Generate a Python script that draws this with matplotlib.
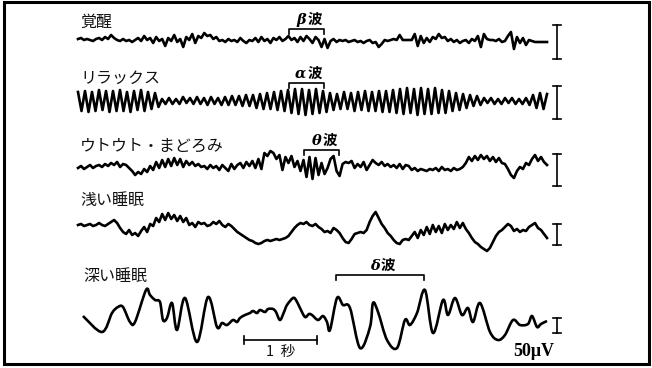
import numpy as np
import matplotlib.pyplot as plt
from matplotlib.patches import Rectangle, PathPatch
from matplotlib.path import Path

plt.rcParams['font.family'] = ['Noto Sans CJK JP', 'DejaVu Sans']

# --- data --------------------------------------------------------------
# deflections in plate units (positive = up), traces 1-4 evenly sampled
states = ["覚醒", "リラックス", "ウトウト・まどろみ", "浅い睡眠", "深い睡眠"]
bands = ["β波", "α波", "θ波", None, "δ波"]

wake = [2, 3, 1, 2, 1, 0, 2, 3, 1, 4, 2, 6, 3, 1, 0, 2, 0, 1, -1, 1, 3, 0, 5, 1,
        3, -2, 4, 0, 2, -5, 3, 0, 6, -1, 2, -6, 4, 1, 7, -2, 5, 3, 8, 5, 6, 2,
        4, 0, 1, -1, 2, 0, 1, -1, 3, 0, -2, 1, 0, 3, -1, 4, 0, 2, -2, 3, 1, 4,
        0, 2, 5, 1, 3, -1, 4, 0, 5, 2, -2, 4, 1, -6, 2, -7, 0, 2, -1, 1, 0, 1,
        -1, 0, 1, -1, 0, -2, 0, 1, -2, -1, -6, -3, 1, 0, 1, 2, 1, 6, 1, 1, 1, 1,
        7, -5, 5, -2, 3, -1, 4, 2, 7, 3, 4, 0, 2, -1, 1, -2, 0, 1, -2, 2, 0, 5,
        -6, 7, 2, 1, 1, 0, 2, -1, 0, 5, 9, -8, 4, -2, 3, -4, 1, 0, -1, -1, -1,
        -1, -1]

# alpha trace: successive peaks / troughs
relax = [9, -10, 10, -11, 9, -10, 11, -9, 10, -11, 10, -10, 11, -10, 9, -11,
         10, -9, 11, -10, 9, -8, 8, -6,
         2, -3, 3, -3, 2, -3, 4, -2, 3, -3, 4, -3, 3, -4, 4, -3, 3, -4, 4, -4,
         5, -4, 5, -5, 6, -5,
         6, -7, 7, -8, 8, -8, 9, -9, 10, -10,
         11, -12, 12, -13, 12, -14, 11, -13, 12, -12, 10, -11,
         8, -9, 7, -8, 9, -8, 8, -10, 9, -9, 10, -10, 9, -10, 10, -11, 10, -11,
         11, -12,
         12, -13, 13, -12, 12, -14, 13, -13, 12, -13, 13, -12, 11, -12, 10, -10,
         8, -9,
         7, -7, 6, -5, 5, -4,
         3, -2, 3, -3, 2, -3, 3, -2, 3, -3, 2, -3, 3, -4,
         6, -7, 8, -8, 7]

drowsy = [-3, -1, -4, -2, 0, -3, -1, 0, -2, 1, -1, 2, 0, 3, -2, 1, 0, -3, -6,
          -10, -7, -9, -4, -7, -1, -5, 3, -3, 5, -2, 6, -1, 7, 0, 6, -2, 4, 0,
          3, -1, 1, -2, -1, -4, 0, -3, -1, -5, 0, -3, -6, 1, -4, 0, 2, -3, 3,
          -1, 4, -3, 6, -4, 12, 9, 14, 12, 6, 10, -5, 8, 2, 9, -2, 4, -6, 5,
          -12, 8, -14, 7, -10, 2, -9, -3, 6, 9, -6, -11, 1, 3, 2, 4, -3, 1, -2,
          3, -5, 0, 5, 2, 0, 3, -1, 1, -2, 0, -3, 1, -4, 0, -1, -5, -3, -6, -4,
          -5, -6, -4, -5, -3, -6, -2, -5, -4, -6, -3, -5, -4, -2, 2, 8, 4, 9, 5,
          10, 6, 9, 4, 8, 3, 7, 2, 1, -4, -10, -13, -6, -2, -4, 2, 0, 6, 10, 4,
          8, 3, 0]

light = [5, 6, 4, 5, 6, 4, 5, 7, 5, 4, 6, 8, 10, 7, 2, -2, -4, 0, -5, -3, -6,
         -1, 3, -2, 6, 4, 12, 8, 16, 10, 17, 11, 15, 9, 14, 8, 12, 5, 7, 3, 8,
         6, 7, 4, 5, 8, 6, 9, 5, 3, 6, 4, 1, -2, -4, -6, -8, -10, -11, -13, -14,
         -13, -11, -10, -11, -10, -9, -10, -9, -8, -6, -2, 2, 5, 7, 6, 8, 5, 4,
         6, 3, 1, -2, -1, -3, 2, 0, -3, -8, -12, -13, -9, -4, -3, -2, -3, 0, 8,
         14, 18, 12, 6, 2, -3, -6, -10, -13, -14, -10, -9, -10, -6, -2, -8, 0,
         -5, 3, -4, 5, -2, 4, -3, 6, 0, 5, 1, 8, 2, 7, 1, -3, -8, -12, -14, -17,
         -19, -21, -18, -12, -6, -2, 0, 3, 6, 4, -1, 1, -2, 0, -1, 3, 5, 7, 2,
         0, -4, -8]

# delta trace: turning points, time in ms
deep_ms = [68, 329, 466, 548, 616, 712, 781, 932, 986, 1055, 1123, 1164, 1219,
           1288, 1356, 1466, 1630, 1781, 1904, 1973, 2041, 2123, 2178, 2219,
           2288, 2356, 2397, 2452, 2493, 2562, 2603, 2671, 2712, 2767, 2822,
           2863, 2945, 2986, 3041, 3110, 3164, 3205, 3288, 3356, 3411, 3452,
           3548, 3630, 3726, 3863, 4000, 4041, 4110, 4233, 4370, 4479, 4548,
           4644, 4753, 4863, 5000, 5068, 5164, 5260, 5342, 5411, 5507, 5644,
           5753, 5849, 5959, 6055, 6164, 6219, 6288, 6342, 6425]
deep_amp = [2, -14, 5, 11, 11, -4, -4, 28, 23, 18, 16, -2, 0, 15, -12, 20, -24,
            21, -9, -5, -7, -2, -4, 0, 3, 5, 7, 5, 8, 6, 9, 9, 6, -2, 6, 13,
            20, 18, 10, 1, 4, 3, -2, 2, -4, -12, 20, 13, 10, -30, -9, 15, 6,
            -22, -30, -2, -7, 5, 28, -15, 18, 3, 20, 3, 10, -4, 15, -14, -22,
            -17, -2, -7, -6, 2, -9, -6, -3]

# 50 uV calibration length for each trace (plate units)
calib = [34, 33, 32, 21, 15]

# --- layout (pixel space of a 652x368 plate) ---------------------------
W, H = 652, 368
X0 = 78          # t = 0
PX_PER_S = 73    # one second
DUR = 6.425
baselines = [41, 101, 165, 230, 318]
label_y = [22, 78, 146, 201, 277]
label_x = [80, 80, 80, 80, 83]
band_span = [(2.89, 3.37), (2.89, 3.37), (3.10, 3.58), None, (3.53, 4.74)]
band_y = [29, 83, 150, None, 275]
bar_x = 557
bar_top = [25, 86, 154, 224, 318]


def smooth_path(x, y):
    # draw a pen-like curve through the read turning points
    pts = np.column_stack([x, y])
    p = np.vstack([pts[0], pts, pts[-1]])
    verts = [pts[0]]
    codes = [Path.MOVETO]
    for i in range(1, len(p) - 2):
        c1 = p[i] + (p[i + 1] - p[i - 1]) / 6
        c2 = p[i + 1] - (p[i + 2] - p[i]) / 6
        verts += [c1, c2, p[i + 1]]
        codes += [Path.CURVE4] * 3
    return Path(verts, codes)


fig = plt.figure(figsize=(W / 100, H / 100), dpi=100)
ax = fig.add_axes([0, 0, 1, 1])
ax.set_xlim(0, W)
ax.set_ylim(H, 0)
ax.axis('off')

ax.add_patch(Rectangle((4, 2), 645, 362, fill=False, lw=2.2, ec='black'))

trace_lw = 1.9
uniform = [wake, relax, drowsy, light]
for i, vals in enumerate(uniform):
    t = np.linspace(0, DUR, len(vals))
    ax.plot(X0 + t * PX_PER_S, baselines[i] - np.array(vals), color='black',
            lw=trace_lw, solid_joinstyle='round')
t5 = np.array(deep_ms) / 1000.0
ax.add_patch(PathPatch(smooth_path(X0 + t5 * PX_PER_S,
                                   baselines[4] - np.array(deep_amp)),
                       fill=False, ec='black', lw=trace_lw, joinstyle='round'))

for i, name in enumerate(states):
    ax.text(label_x[i], label_y[i], name, fontsize=11.5, va='center',
            ha='left', color='#111111')

    # band bracket
    if bands[i] is not None:
        t0, t1 = band_span[i]
        xa, xb = X0 + t0 * PX_PER_S, X0 + t1 * PX_PER_S
        yb = band_y[i]
        ax.plot([xa, xa, xb, xb], [yb + 5, yb, yb, yb + 5], color='black', lw=1.2)
        ax.text((xa + xb) / 2, yb - 2, bands[i][0], fontsize=10.5, ha='right',
                va='bottom', fontweight='bold', fontstyle='italic',
                family=['DejaVu Serif', 'Noto Sans CJK JP'])
        ax.text((xa + xb) / 2 + 1, yb - 2, bands[i][1], fontsize=10.5, ha='left',
                va='bottom', fontweight='bold', family=['Noto Sans CJK JP'])

    # calibration bar
    yt, yl = bar_top[i], bar_top[i] + calib[i]
    ax.plot([bar_x, bar_x], [yt, yl], color='black', lw=1.2)
    ax.plot([bar_x - 4, bar_x + 4], [yt, yt], color='black', lw=1.2)
    ax.plot([bar_x - 4, bar_x + 4], [yl, yl], color='black', lw=1.2)

# 1 s bar
xa, xb = X0 + 2.27 * PX_PER_S, X0 + 3.27 * PX_PER_S
ax.plot([xa, xb], [340, 340], color='black', lw=1.2)
ax.plot([xa, xa], [336, 344], color='black', lw=1.2)
ax.plot([xb, xb], [336, 344], color='black', lw=1.2)
ax.text((xa + xb) / 2, 352, "1  秒", fontsize=10.5, ha='center', va='center',
        color='#111111')

ax.text(534, 352, "50μV", fontsize=13, ha='center', va='center',
        fontweight='bold', family=['Liberation Serif', 'DejaVu Serif'])

fig.savefig('out.png', dpi=100)
